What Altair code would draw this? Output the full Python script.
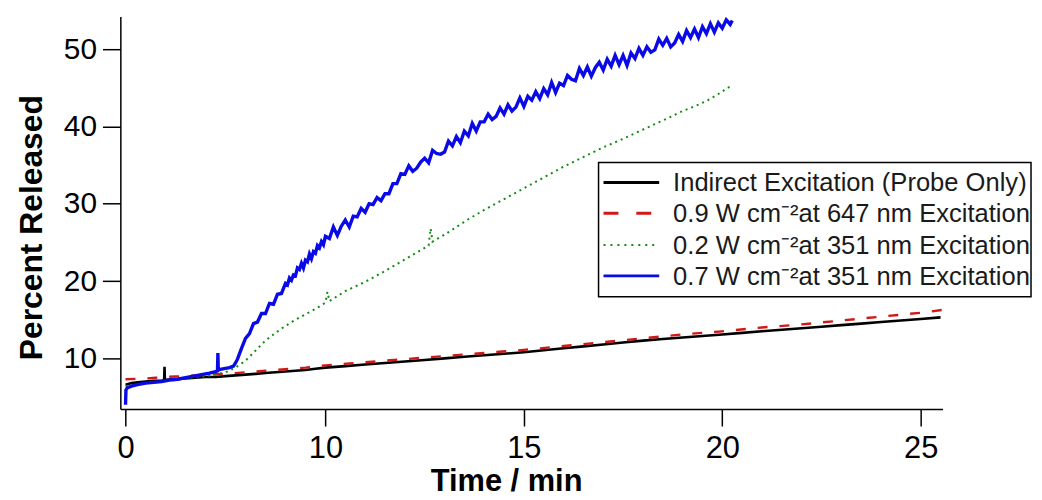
import altair as alt
import pandas as pd

# ---------------- data ----------------
series_names = [
    "Indirect Excitation (Probe Only)",
    "0.9 W cm⁻²at 647 nm Excitation",
    "0.2 W cm⁻²at 351 nm Excitation",
    "0.7 W cm⁻²at 351 nm Excitation",
]
series_colors = ["#000000", "#d01818", "#138a13", "#0a0ae6"]

x_ticks = [0, 10, 15, 20, 25]
y_ticks = [10, 20, 30, 40, 50]

black_t = [0, 0.3, 0.6, 1.0, 1.4, 1.8, 1.93, 1.95, 1.97, 2.2, 2.5, 3.0, 3.5, 4.0, 4.5, 5.0,
           5.5, 6.0, 6.5, 7.0, 7.5, 8.0, 8.5, 9.0, 9.5, 10.0, 10.5, 11, 11.5, 12, 12.5,
           13, 13.5, 14, 14.5, 15, 15.5, 16, 16.5, 17, 17.5, 18, 18.5, 19, 19.5, 20,
           20.5, 21, 21.5, 22, 22.5, 23, 23.5, 24, 24.5, 25, 25.5]
black_v = [6.6, 6.8, 6.9, 7.0, 7.1, 7.1, 7.2, 8.9, 7.2, 7.25, 7.3, 7.4, 7.5, 7.6, 7.6, 7.7,
           7.8, 7.9, 8.0, 8.1, 8.2, 8.3, 8.4, 8.5, 8.65, 8.8, 9.0, 9.2, 9.4, 9.6, 9.8,
           10.0, 10.2, 10.4, 10.6, 10.8, 11.05, 11.3, 11.55, 11.8, 12.05, 12.3, 12.5, 12.7, 12.9, 13.1,
           13.3, 13.5, 13.7, 13.9, 14.1, 14.3, 14.5, 14.7, 14.9, 15.1, 15.3]

red_t = [0, 0.5, 1, 1.5, 2, 2.5, 3, 3.5, 4, 4.5, 5, 5.5, 6, 7, 8, 9, 10, 11, 12, 13, 14,
         15, 16, 17, 18, 19, 20, 21, 22, 23, 24, 25, 25.6]
red_v = [7.3, 7.35, 7.4, 7.5, 7.6, 7.65, 7.7, 7.8, 7.9, 7.95, 8.0, 8.1, 8.2, 8.4, 8.6, 8.8,
         9.1, 9.5, 9.9, 10.3, 10.7, 11.1, 11.6, 12.1, 12.6, 13.1, 13.5, 14.0, 14.4, 14.9,
         15.4, 15.9, 16.3]

green_t = [0, 0.5, 1, 1.5, 2, 2.5, 3, 3.5, 4, 4.5, 5, 5.5, 6, 6.5, 7, 7.5, 8, 8.5, 9, 9.5,
           10, 10.05, 10.1, 10.5, 11, 11.5, 12, 12.3, 12.6, 12.65, 12.7, 13, 13.6, 14, 14.5,
           15, 15.5, 16, 16.4, 17, 17.5, 18, 18.3, 18.6, 19, 19.3, 19.6, 19.9, 20.2]
green_v = [6.4, 6.6, 6.8, 6.9, 7.1, 7.2, 7.4, 7.6, 7.7, 7.9, 8.2, 8.8, 9.7, 11.0, 12.3, 13.3,
           14.2, 15.0, 15.7, 16.4, 17.2, 18.6, 17.4, 18.7, 19.9, 21.3, 22.8, 23.7, 24.6, 26.8,
           25.1, 26.0, 28.0, 29.2, 30.6, 32.0, 33.4, 34.8, 35.8, 37.3, 38.4, 39.6, 40.3, 41.0,
           42.0, 42.6, 43.3, 44.2, 45.2]

blue_t = [0, 0.02, 0.1, 0.3, 0.6, 1.0, 1.4, 1.8, 2.2, 2.6, 3.0, 3.4, 3.8, 4.2, 4.5, 4.6,
          4.62, 4.64, 4.8, 5.0, 5.2, 5.4, 5.5, 5.6, 5.8, 6.0, 6.2, 6.4, 6.6, 6.8, 7.0, 7.2,
          7.4, 7.6, 7.8,
          8.0, 8.1, 8.2, 8.3, 8.4, 8.5, 8.6, 8.7, 8.8, 8.9,
          9.0, 9.1, 9.2, 9.3, 9.4, 9.5, 9.6, 9.7, 9.8, 9.9,
          10.0, 10.1, 10.2, 10.3, 10.4, 10.5, 10.6, 10.7, 10.8, 10.9,
          11.0, 11.1, 11.2, 11.3, 11.4, 11.5, 11.6, 11.7, 11.8, 11.9,
          12.0, 12.1, 12.2, 12.3, 12.4, 12.5, 12.6, 12.7, 12.8, 12.9,
          13.0, 13.1, 13.2, 13.3, 13.4, 13.5, 13.6, 13.7, 13.8, 13.9,
          14.0, 14.1, 14.2, 14.3, 14.4, 14.5, 14.6, 14.7, 14.8, 14.9,
          15.0, 15.1, 15.2, 15.3, 15.4, 15.5, 15.6, 15.7, 15.8, 15.9,
          16.0, 16.1, 16.2, 16.3, 16.4, 16.5, 16.6, 16.7, 16.8, 16.9,
          17.0, 17.1, 17.2, 17.3, 17.4, 17.5, 17.6, 17.7, 17.8, 17.9,
          18.0, 18.1, 18.2, 18.3, 18.4, 18.5, 18.6, 18.7, 18.8, 18.9,
          19.0, 19.1, 19.2, 19.3, 19.4, 19.5, 19.6, 19.7, 19.8, 19.9,
          20.0, 20.1, 20.2, 20.25]
blue_v = [4.0, 5.9, 6.2, 6.4, 6.6, 6.8, 6.9, 7.0, 7.2, 7.3, 7.5, 7.7, 7.9, 8.1, 8.3, 8.4,
          10.7, 8.5, 8.6, 8.7, 8.8, 9.0, 9.4, 9.9, 11.3, 12.6, 13.2, 14.5, 14.7, 15.8, 15.8, 17.1,
          17.0, 18.3, 18.4,
          19.7, 19.5, 20.4, 20.1, 20.8, 20.7, 21.7, 21.5, 22.3, 21.7,
          22.7, 22.5, 23.5, 22.9, 23.8, 23.6, 24.6, 24.3, 25.1, 24.7,
          25.8, 25.5, 27.0, 25.9, 27.1, 27.9, 27.0, 28.4, 28.3, 29.4,
          28.9, 30.0, 29.9, 30.8, 30.4, 31.3, 31.3, 32.6, 32.6, 33.9,
          33.8, 34.9, 34.2, 34.6, 35.4, 35.9, 35.3, 36.9, 36.5, 36.4,
          36.7, 38.1, 37.5, 38.7, 37.9, 39.4, 38.8, 40.4, 39.4, 40.6,
          40.6, 41.6, 40.9, 41.3, 42.4, 41.6, 42.8, 42.0, 42.5, 43.7,
          42.6, 43.9, 43.4, 44.5, 43.6, 44.9, 44.1, 45.7, 44.4, 45.6,
          45.3, 46.6, 46.1, 45.9, 47.5, 46.6, 47.7, 46.5, 47.6, 48.3,
          47.3, 48.7, 47.8, 49.2, 48.0, 49.2, 47.9, 49.5, 48.8, 50.1,
          49.2, 50.3, 49.6, 49.9, 51.3, 50.5, 51.4, 50.3, 50.8, 51.9,
          51.0, 52.4, 51.5, 52.6, 51.5, 52.9, 52.0, 53.3, 52.2, 53.4,
          52.7, 53.8, 53.2, 53.7]

series_t = [black_t, red_t, green_t, blue_t]
series_v = [black_v, red_v, green_v, blue_v]

# ---------------- styling ----------------
FONT = "Liberation Sans"
plot_dash = [None, [10, 12], [2, 4], None]
plot_width = [2.6, 2.4, 2.0, 3.4]

frames = []
for i, name in enumerate(series_names):
    frames.append(pd.DataFrame({"series": name, "t": series_t[i], "v": series_v[i]}))
df = pd.concat(frames, ignore_index=True)

xscale = alt.Scale(domain=[-0.26, 10, 25.55], range=[0, 206.3, 827], nice=False, zero=False)
yscale = alt.Scale(domain=[3.44, 54.24], nice=False, zero=False)

xaxis = alt.Axis(values=x_ticks, title="Time / min", grid=False, tickSize=17, labelPadding=8,
                 labelFontSize=31, titleFontSize=31, titleFontWeight="bold",
                 titleX=388, titleY=82, titleBaseline="alphabetic", labelFlush=False,
                 format="d")
yaxis = alt.Axis(values=y_ticks, title="Percent Released", grid=False, tickSize=18, labelPadding=6,
                 labelFontSize=30, titleFontSize=32, titleFontWeight="bold",
                 titleX=-79, titleY=212, titleBaseline="alphabetic", titleAlign="center",
                 titleAngle=270, format="d")

layers = []
for i, name in enumerate(series_names):
    mk = dict(color=series_colors[i], strokeWidth=plot_width[i], clip=True)
    if plot_dash[i] is not None:
        mk["strokeDash"] = plot_dash[i]
    layers.append(
        alt.Chart(df).transform_filter(alt.datum.series == name).mark_line(**mk).encode(
            x=alt.X("t:Q", scale=xscale, axis=xaxis),
            y=alt.Y("v:Q", scale=yscale, axis=yaxis),
            order="t:Q",
        )
    )

# ---------------- legend (box, sample lines, labels) ----------------
one = pd.DataFrame({"k": [0]})
legend_box = alt.Chart(one).mark_rect(fill="white", stroke="black", strokeWidth=1.5).encode(
    x=alt.value(481), x2=alt.value(916), y=alt.value(147), y2=alt.value(282)
)
layers.append(legend_box)

row_y = [167, 198, 230, 261]
legend_dash = [None, [15, 18], [2, 5], None]
legend_width = [3, 3, 2, 3]
for i, name in enumerate(series_names):
    mk = dict(color=series_colors[i], strokeWidth=legend_width[i])
    if legend_dash[i] is not None:
        mk["strokeDash"] = legend_dash[i]
    layers.append(
        alt.Chart(one).mark_rule(**mk).encode(
            x=alt.value(486), x2=alt.value(542), y=alt.value(row_y[i])
        )
    )
    layers.append(
        alt.Chart(one).mark_text(text=name, align="left", baseline="middle", fontSize=25.7,
                                 font=FONT, color="#1a1a1a").encode(
            x=alt.value(556), y=alt.value(row_y[i] + 1)
        )
    )

chart = alt.layer(*layers).properties(
    width=827, height=395,
    autosize=alt.AutoSizeParams(type="none"),
    padding={"left": 113, "top": 7, "right": 92, "bottom": 90},
    background="white",
).configure_view(stroke=None).configure_axis(
    domainColor="black", domainWidth=1.5, tickColor="black", tickWidth=1.5,
    labelColor="black", titleColor="black", labelFont=FONT, titleFont=FONT,
)

chart.save("out.html", embed_options={"renderer": "svg", "actions": False})
